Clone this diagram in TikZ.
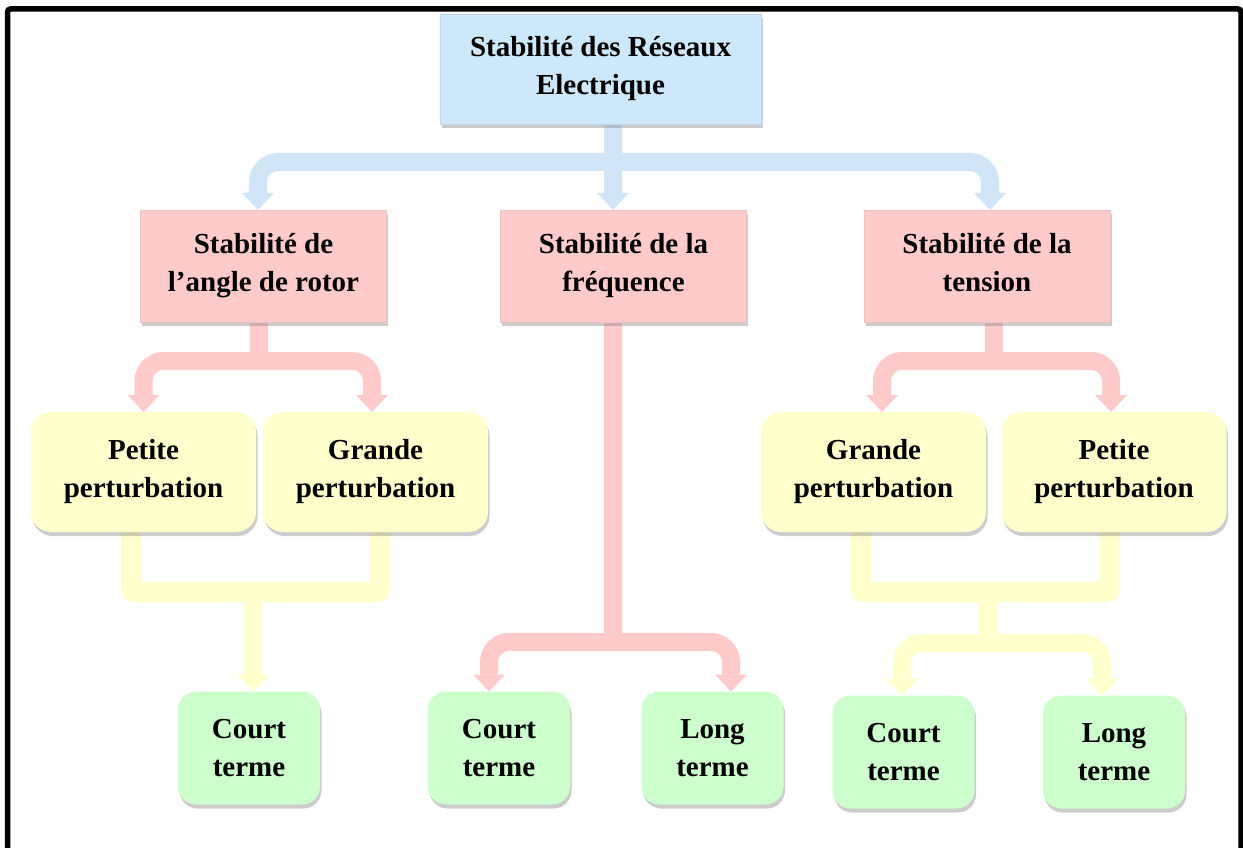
\documentclass[tikz,border=0pt]{standalone}
\usepackage{fontspec}
\setmainfont{Liberation Serif}
\usetikzlibrary{arrows.meta,shadows,backgrounds}

\definecolor{bleuclair}{HTML}{CCE8FA}
\definecolor{bleufleche}{HTML}{D0E6F8}
\definecolor{rose}{HTML}{FFCACA}
\definecolor{jaune}{HTML}{FFFFCC}
\definecolor{vert}{HTML}{CCFFCC}

\begin{document}
\begin{tikzpicture}[
  x=1pt, y=-1pt,
  base/.style={align=center, inner sep=0pt, outer sep=0pt, font=\fontsize{29}{38}\selectfont\bfseries,
    drop shadow={opacity=0.4, shadow xshift=1.5pt, shadow yshift=-4pt}},
  titre/.style={base, fill=bleuclair, draw=bleuclair!85!gray, minimum width=321pt, minimum height=110pt},
  stab/.style={base, fill=rose, draw=rose!88!gray, minimum width=246pt, minimum height=112pt},
  pert/.style={base, fill=jaune, rounded corners=20pt, minimum width=225pt, minimum height=120pt},
  terme/.style={base, fill=vert, rounded corners=18pt, minimum width=142pt, minimum height=113pt},
  fl/.style={line width=18pt, rounded corners=20pt, -{Triangle[width=32pt, length=17pt, line width=0pt]}},
  bfl/.style={fl, draw=bleufleche},
  rfl/.style={fl, draw=rose},
  jfl/.style={fl, draw=jaune},
  jbarre/.style={line width=20pt, draw=jaune, rounded corners=3pt}
]
  \useasboundingbox (0,0) rectangle (1243,848);
  \draw[line width=5.5pt, rounded corners=3pt] (7.5,9) rectangle (1241,880);

  \node[titre] (res)   at (600.5,69) {Stabilité des Réseaux\\Electrique};
  \node[stab]  (rot)   at (263.5,266) {Stabilité de\\l’angle de rotor\vphantom{p}};
  \node[stab]  (freq)  at (623.5,266) {Stabilité de la\\fréquence};
  \node[stab]  (tens)  at (987,266)   {Stabilité de la\\tension\vphantom{p}};
  \node[pert]  (rotP)  at (143.5,472) {Petite\\perturbation};
  \node[pert]  (rotG)  at (375.5,472) {Grande\\perturbation};
  \node[pert]  (tensG) at (873.5,472) {Grande\\perturbation};
  \node[pert]  (tensP) at (1114,472)  {Petite\\perturbation};
  \node[terme] (rotC)  at (249,748)   {Court\\terme};
  \node[terme] (freqC) at (499,748)   {Court\\terme};
  \node[terme] (freqL) at (712.5,748) {Long\\terme};
  \node[terme] (tensC) at (903.5,752) {Court\\terme};
  \node[terme] (tensL) at (1114,752)  {Long\\terme};

  \coordinate (jres)   at (613,162);
  \coordinate (jrot)   at (259,361);
  \coordinate (jfreq)  at (613,642);
  \coordinate (jtens)  at (994,361);
  \coordinate (jrotP)  at (253,592);
  \coordinate (jtensA) at (988,592);
  \coordinate (jtensB) at (988,643);

  \begin{scope}[on background layer]
    % bleu
    \draw[bfl] ([xshift=12.5pt]res.south) -- ([xshift=-10.5pt]freq.north);
    \draw[bfl] (jres) -| ([xshift=-5.5pt]rot.north);
    \draw[bfl] (jres) -| ([xshift=3pt]tens.north);
    % rose
    \draw[rfl, -] ([xshift=-4.5pt]rot.south) -- (jrot);
    \draw[rfl] (jrot) -| (rotP.north);
    \draw[rfl] (jrot) -| ([xshift=-3.5pt]rotG.north);
    \draw[rfl, -] ([xshift=-10.5pt]freq.south) -- (jfreq);
    \draw[rfl] (jfreq) -| ([xshift=-10pt]freqC.north);
    \draw[rfl] (jfreq) -| ([xshift=18.5pt]freqL.north);
    \draw[rfl, -] ([xshift=7pt]tens.south) -- (jtens);
    \draw[rfl] (jtens) -| ([xshift=8.5pt]tensG.north);
    \draw[rfl] (jtens) -| ([xshift=-3pt]tensP.north);
    % jaune
    \draw[jbarre] ([xshift=-12.5pt]rotP.south) -- ++(0,60) -| ([xshift=4.5pt]rotG.south);
    \draw[jfl] (jrotP) -- ([xshift=4pt]rotC.north);
    \draw[jbarre] ([xshift=-12.5pt]tensG.south) -- ++(0,60) -| ([xshift=-4pt]tensP.south);
    \draw[jfl, -] (jtensA) -- (jtensB);
    \draw[jfl] (jtensB) -| ([xshift=-1.5pt]tensC.north);
    \draw[jfl] (jtensB) -| ([xshift=-12pt]tensL.north);
  \end{scope}
\end{tikzpicture}
\end{document}
